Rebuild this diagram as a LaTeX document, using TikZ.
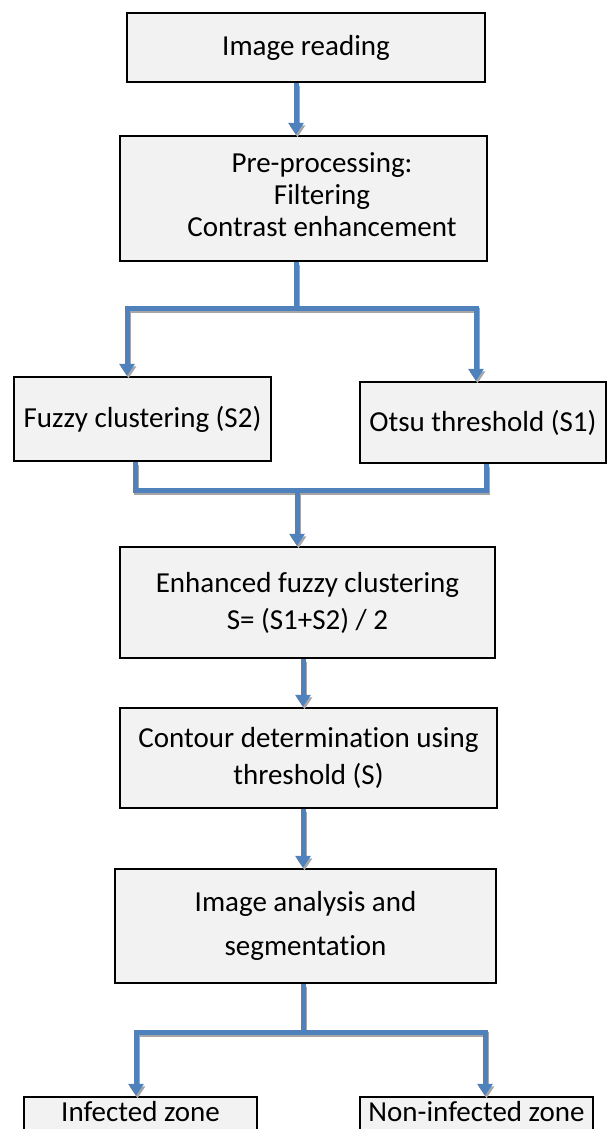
\documentclass[tikz,border=0pt]{standalone}
\usepackage{fontspec}
\setmainfont{Carlito}[Ligatures=NoCommon]
\usepackage{tikz}
\usetikzlibrary{
        arrows.meta,
        positioning
    }
\definecolor{flowblue}{RGB}{79,129,189}
\definecolor{boxgray}{RGB}{242,242,242}
\tikzset{>={Triangle[width=15pt,length=12pt]},auto,node distance=2cm}
\tikzset{box/.style={draw=black,line width=2.4pt,fill=boxgray,inner sep=2pt,align=center,
        font=\fontsize{29pt}{37pt}\selectfont}}
\tikzset{flow/.style={draw=flowblue,line width=5pt,
        preaction={draw=black!35,line width=5pt,transform canvas={shift={(1.5pt,-2.5pt)}}}}}

\begin{document}
\begin{tikzpicture}[x=1pt,y=-1pt]
                \useasboundingbox (0,0) rectangle (608,1129);
                \node[box,minimum width=358pt,minimum height=69pt] (read) at (306,47.5) {Image reading};
                \node[box,minimum width=367pt,minimum height=125pt,font=\fontsize{29pt}{32pt}\selectfont] (pre) [below=51.6pt of read,xshift=-2.5pt]
                    {\hspace*{37pt}\begin{tabular}{@{}c@{}}Pre-processing:\\ Filtering\\ Contrast enhancement\end{tabular}};
                \node[box,minimum width=257pt,minimum height=84pt] (fuzzy) [below=113.6pt of pre,xshift=-161pt] {Fuzzy clustering (S2)};
                \node[box,minimum width=246pt,minimum height=81pt] (otsu) [below=118.6pt of pre,xshift=179.5pt] {Otsu threshold (S1)};
                \node[box,minimum width=375pt,minimum height=111pt] (enh) [below=283.6pt of pre,xshift=4pt] {Enhanced fuzzy clustering\\ S= (S1+S2) / 2};
                \node[box,minimum width=377pt,minimum height=100pt] (cont) [below=47.6pt of enh,xshift=1pt] {Contour determination using\\ threshold (S)};
                \node[box,minimum width=381pt,minimum height=114pt,font=\fontsize{29pt}{44pt}\selectfont] (anal) [below=58.6pt of cont,xshift=-3pt] {Image analysis and\\ segmentation};
                \node[box,minimum width=233pt,text height=22pt,text depth=20pt] (inf) [below=111.6pt of anal,xshift=-165pt] {Infected zone};
                \node[box,minimum width=233pt,text height=22pt,text depth=20pt] (non) [below=111.6pt of anal,xshift=171pt] {Non-infected zone};
                % junctions
                \coordinate (s1) at (296,308);
                \coordinate (s1l) at (127,308);
                \coordinate (s1r) at (476,308);
                \coordinate (m1) at (297,490);
                \coordinate (m1l) at (135,490);
                \coordinate (m1r) at (486,490);
                \coordinate (s2) at (303,1032);
                \coordinate (s2l) at (136,1032);
                \coordinate (s2r) at (485,1032);
                \draw[flow,->] (read.south -| s1) -- (pre.north -| s1);
                \draw[flow] (pre.south -| s1) -- (s1);
                \draw[flow,<->] (s1l |- fuzzy.north) -- (s1l) -- (s1r) -- (s1r |- otsu.north);
                \draw[flow] (m1l |- fuzzy.south) -- (m1l) -- (m1r) -- (m1r |- otsu.south);
                \draw[flow,->] (m1) -- (m1 |- enh.north);
                \draw[flow,->] (enh.south -| s2) -- (cont.north -| s2);
                \draw[flow,->] (cont.south -| s2) -- (anal.north -| s2);
                \draw[flow] (anal.south -| s2) -- (s2);
                \draw[flow,<->] (s2l |- inf.north) -- (s2l) -- (s2r) -- (s2r |- non.north);
            \end{tikzpicture}
\end{document}
